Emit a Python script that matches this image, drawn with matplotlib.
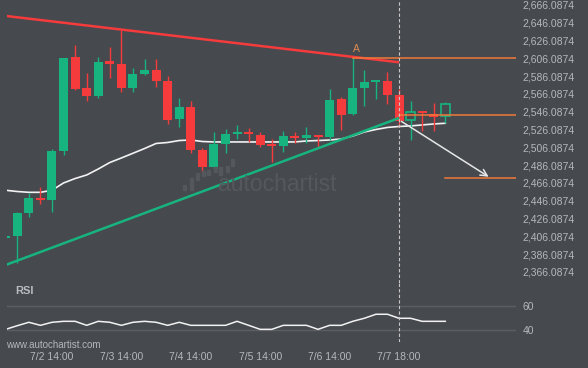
import numpy as np
import matplotlib
matplotlib.use("Agg")
import matplotlib.pyplot as plt
from matplotlib.patches import Rectangle

plt.rcParams['font.family'] = ['Liberation Sans', 'DejaVu Sans']

# 4h candles, index 0 .. 38
opens = [2404.6, 2406.9, 2432.7, 2449.2, 2447.0, 2502.0, 2607.7, 2572.8, 2564.2, 2603.2,
         2599.8, 2573.2, 2588.6, 2593.1, 2580.7, 2538.3, 2551.5, 2503.2, 2484.4, 2510.2,
         2521.5, 2523.1, 2520.0, 2509.9, 2508.0, 2518.9, 2517.0, 2520.0, 2517.8, 2560.5,
         2543.9, 2572.8, 2579.9, 2580.7, 2565.0, 2536.5, 2545.5, 2543.6, 2541.4]
highs = [2407.7, 2433.8, 2455.2, 2461.9, 2504.3, 2606.5, 2621.1, 2589.3, 2607.3, 2618.6,
         2638.0, 2595.0, 2605.1, 2605.1, 2586.0, 2561.3, 2558.2, 2505.4, 2523.1, 2526.4,
         2530.9, 2527.9, 2523.7, 2515.2, 2524.2, 2523.1, 2528.7, 2520.0, 2571.4, 2562.4,
         2606.2, 2592.7, 2581.0, 2590.5, 2571.4, 2558.6, 2545.5, 2555.6, 2556.8]
lows = [2404.2, 2375.9, 2427.5, 2442.5, 2433.2, 2497.6, 2570.6, 2558.6, 2561.9, 2583.7,
        2568.0, 2568.0, 2587.4, 2573.6, 2532.0, 2529.4, 2499.5, 2477.0, 2481.8, 2500.1,
        2515.2, 2511.7, 2506.9, 2489.3, 2500.6, 2511.4, 2510.7, 2506.9, 2514.4, 2525.6,
        2542.5, 2552.3, 2560.8, 2554.5, 2529.4, 2514.4, 2524.5, 2524.9, 2533.2]
closes = [2406.9, 2432.7, 2449.2, 2447.0, 2502.0, 2606.5, 2571.7, 2564.2, 2602.0, 2600.1,
          2573.2, 2588.6, 2593.1, 2580.7, 2537.2, 2551.5, 2503.2, 2484.4, 2509.9, 2521.2,
          2522.3, 2521.5, 2508.8, 2508.0, 2518.9, 2517.0, 2520.0, 2518.1, 2559.4, 2542.8,
          2572.8, 2579.6, 2581.0, 2565.3, 2535.8, 2545.5, 2544.4, 2540.6, 2554.5]
moving_avg = [2457.9, 2456.5, 2455.6, 2455.6, 2457.9, 2466.1, 2471.1, 2475.1, 2481.8, 2489.1,
              2494.2, 2499.5, 2504.8, 2510.5, 2511.6, 2513.8, 2514.4, 2512.7, 2512.2, 2512.2,
              2512.2, 2512.2, 2512.2, 2512.2, 2512.2, 2512.2, 2513.3, 2513.8, 2514.4, 2515.5,
              2518.9, 2523.4, 2526.2, 2528.5, 2529.6, 2530.2, 2531.3, 2532.4, 2533.2]
rsi = [40.8, 43.8, 46.6, 44.1, 46.6, 47.4, 47.4, 44.1, 47.4, 46.6,
       44.1, 46.6, 47.4, 46.6, 44.1, 46.6, 44.1, 44.1, 44.1, 44.1,
       47.4, 44.1, 40.8, 40.8, 44.1, 44.1, 44.1, 40.8, 44.1, 44.1,
       47.4, 49.9, 53.2, 53.2, 49.9, 49.9, 47.4, 47.4, 47.4]
hollow_from = 35

tick_idx = [4, 10, 16, 22, 28, 34]
tick_labels = ['7/2 14:00', '7/3 14:00', '7/4 14:00', '7/5 14:00', '7/6 14:00', '7/7 18:00']
price_ticks = [2366.0874 + 20 * k for k in range(16)]

# pattern lines (index, price)
resistance = ([0, 34], [2653.8, 2601.7])
support = ([0, 34], [2373.95, 2539.1])
level_a = (30, 2606.0874)
level_mid = (34, 2542.2)
level_target = (38, 2471.4)
arrow_start = (34, 2537.0)
arrow_end = (41.95, 2471.4)

BG = '#46494e'
GREEN = '#17b47f'
RED = '#f53b3b'
ORANGE = '#f07a3a'
TXT = '#b4b7bb'
W, H = 588, 368

fig = plt.figure(figsize=(5.88, 3.68), dpi=100, facecolor=BG)
ax = fig.add_axes([6.7 / W, (H - 283) / H, (516 - 6.7) / W, 283 / H])
ax_rsi = fig.add_axes([6.7 / W, (H - 342) / H, (516 - 6.7) / W, 59 / H], sharex=ax)

for a in (ax, ax_rsi):
    a.set_facecolor(BG)
    for s in a.spines.values():
        s.set_visible(False)

x = np.arange(len(opens))
o = np.array(opens)
c = np.array(closes)
up = c >= o
colors = np.where(up, GREEN, RED)

ax.set_xlim(0.086, 44.11)
ax.set_ylim(2353.7, 2671.7)

# watermark
fig.text(218 / W, 1 - 185 / H, 'autochartist', color='#55585d', fontsize=16.5,
         va='center', ha='left')
logo = [(184.7, 185, 190), (191, 178, 190), (197, 172.5, 180), (203, 171, 176),
        (209, 170, 174.5), (215, 167, 172), (220.5, 167, 174.5), (227, 166, 172),
        (232.5, 158.5, 166)]
for lx, top, bot in logo:
    fig.patches.append(Rectangle(((lx - 1.5) / W, 1 - bot / H), 3 / W, (bot - top) / H,
                                 transform=fig.transFigure, color='#54575c', zorder=0))

# candles
ax.vlines(x, lows, highs, colors=colors, lw=1, zorder=3)
min_h = 2.2
body_bottom = np.minimum(o, c)
body_h = np.maximum(np.abs(c - o), min_h)
for i in range(len(x)):
    if i >= hollow_from and up[i]:
        ax.bar(x[i], body_h[i], bottom=body_bottom[i], width=0.78, facecolor=BG,
               edgecolor=GREEN, lw=1.2, zorder=4)
    else:
        ax.bar(x[i], body_h[i], bottom=body_bottom[i], width=0.78, color=colors[i], zorder=4)

ax.plot(x, moving_avg, color='#f2f2f2', lw=1.2, zorder=2)

# trend lines
ax.plot(resistance[0], resistance[1], color=RED, lw=1.8, zorder=5, solid_capstyle='butt')
ax.plot(support[0], support[1], color=GREEN, lw=1.8, zorder=5, solid_capstyle='butt')

# key levels
xr = ax.get_xlim()[1]
for lx, ly in (level_a, level_mid, level_target):
    ax.plot([lx, xr], [ly, ly], color=ORANGE, lw=1.1, zorder=5)
ax.text(level_a[0] + 0.3, level_a[1] + 5, 'A', color='#d98c52', fontsize=7.5,
        ha='center', va='bottom')

ax.annotate('', xy=arrow_end, xytext=arrow_start,
            arrowprops=dict(arrowstyle='->', color='#e6e6e6', lw=1.1, mutation_scale=12),
            zorder=6)

ax.axvline(34, color='#c8c8c8', lw=0.8, ls=(0, (3, 2)), zorder=6)
ax_rsi.axvline(34, color='#c8c8c8', lw=0.8, ls=(0, (3, 2)), zorder=6)

ax.yaxis.tick_right()
ax.set_yticks(price_ticks)
ax.set_yticklabels(['{:,.4f}'.format(v) for v in price_ticks])
ax.tick_params(axis='y', length=0, pad=4.8, labelsize=7.5, labelcolor=TXT)
ax.tick_params(axis='x', bottom=False, labelbottom=False)

# RSI panel
ax_rsi.set_ylim(30.4, 78.9)
ax_rsi.axhline(60, color='#5b5e63', lw=1)
ax_rsi.axhline(40, color='#5b5e63', lw=1)
ax_rsi.plot(x, rsi, color='#f2f2f2', lw=1.1)
ax_rsi.yaxis.tick_right()
ax_rsi.set_yticks([40, 60])
ax_rsi.set_yticklabels(['40', '60'])
ax_rsi.tick_params(axis='y', length=0, pad=4.8, labelsize=7.5, labelcolor=TXT)
ax_rsi.set_xticks(tick_idx)
ax_rsi.set_xticklabels(tick_labels)
ax_rsi.tick_params(axis='x', length=0, pad=7, labelsize=7.5, labelcolor=TXT)

fig.text(15 / W, 1 - 291 / H, 'RSI', color='#b9bcc0', fontsize=8, fontweight='bold',
         va='center', ha='left')
fig.text(5.7 / W, 1 - 344.7 / H, 'www.autochartist.com', color=TXT, fontsize=7,
         va='center', ha='left')

fig.savefig('out.png', dpi=100, facecolor=BG)
